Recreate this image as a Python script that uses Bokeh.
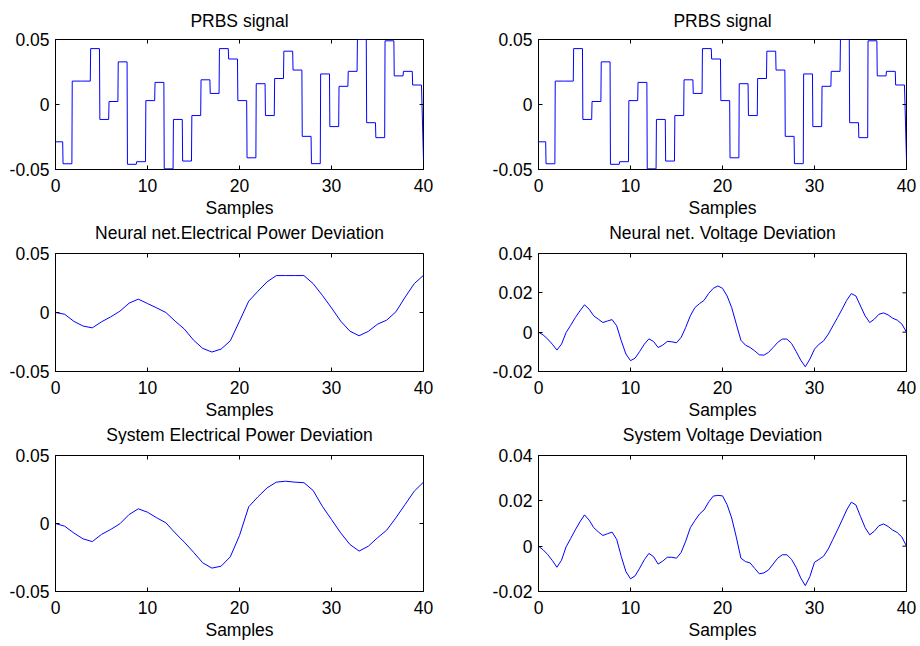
import numpy as np
from bokeh.plotting import figure
from bokeh.layouts import column, row
from bokeh.models import FixedTicker, Range1d, Title
from bokeh.embed import file_html
from bokeh.resources import INLINE

# ---------------- data ----------------
x_ticks = [0, 10, 20, 30, 40]
x_tick_labels = ["0", "10", "20", "30", "40"]
x_label = "Samples"

power_ticks = [-0.05, 0, 0.05]
power_tick_labels = ["-0.05", "0", "0.05"]
volt_ticks = [-0.02, 0, 0.02, 0.04]
volt_tick_labels = ["-0.02", "0", "0.02", "0.04"]

titles_left = ["PRBS signal", "Neural net.Electrical Power Deviation",
               "System Electrical Power Deviation"]
titles_right = ["PRBS signal", "Neural net. Voltage Deviation",
                "System Voltage Deviation"]

# PRBS step levels (one per sample, last value is the final point at 40)
prbs_levels = [-0.0287, -0.0456, 0.018, 0.018, 0.043, -0.0115, 0.0023, 0.0328,
               -0.046, -0.044, 0.003, 0.017, -0.0495, -0.0115, -0.0435, -0.0085,
               0.019, 0.0085, 0.043, 0.035, 0.003, -0.041, 0.016, -0.0085,
               0.020, 0.041, 0.0265, -0.0245, -0.0455, 0.0235, -0.017, 0.014,
               0.0255, 0.050, -0.014, -0.0255, 0.049, 0.022, 0.0255, 0.015,
               -0.043]

# Electrical power deviation (samples at integer steps)
power_x = list(range(0, 41))
nn_power = [0.0, -0.0015, -0.0075, -0.0115, -0.013, -0.0079, -0.0037, 0.0011,
            0.0079, 0.0113, 0.0076, 0.0039, 0.0, -0.0073, -0.014, -0.0234,
            -0.0304, -0.0335, -0.031, -0.024, -0.0073, 0.0096, 0.018, 0.026,
            0.0313, 0.0313, 0.0313, 0.0313, 0.0245, 0.0146, 0.0039, -0.0073,
            -0.0158, -0.0197, -0.016, -0.0099, -0.0065, 0.0006, 0.013, 0.0245,
            0.0315]
sys_power = [0.0, -0.002, -0.007, -0.0113, -0.0133, -0.008, -0.0044, -0.0002,
             0.0066, 0.0108, 0.0083, 0.0042, 0.0005, -0.0069, -0.0137, -0.0211,
             -0.0289, -0.0328, -0.0314, -0.0245, -0.0088, 0.0123, 0.0196, 0.0262,
             0.0304, 0.0311, 0.0304, 0.030, 0.0243, 0.0127, 0.0029, -0.0069,
             -0.0154, -0.0203, -0.0167, -0.0105, -0.0049, 0.0042, 0.014, 0.0238,
             0.0304]

# Voltage deviation (samples every half step)
volt_x = list(np.arange(0, 40.5, 0.5))
nn_volt = [0.0, -0.0014, -0.0035, -0.0061, -0.0091, -0.0061, -0.0002, 0.0035,
           0.0074, 0.0108, 0.0139, 0.0117, 0.0083, 0.0066, 0.0049, 0.0057,
           0.0064, 0.0032, -0.0044, -0.0111, -0.0145, -0.0132, -0.0098, -0.0061,
           -0.0034, -0.0047, -0.0078, -0.0066, -0.0047, -0.0049, -0.0054, -0.0027,
           0.0024, 0.0083, 0.0125, 0.0145, 0.0162, 0.0197, 0.0223, 0.0235,
           0.0223, 0.0184, 0.0125, 0.0041, -0.0041, -0.0066, -0.0078, -0.0095,
           -0.0115, -0.0117, -0.0103, -0.0078, -0.0052, -0.0035, -0.0035, -0.0057,
           -0.0098, -0.0142, -0.0176, -0.0137, -0.0086, -0.0061, -0.0044, -0.001,
           0.0032, 0.0074, 0.0117, 0.0162, 0.0196, 0.0184, 0.0133, 0.0083,
           0.0049, 0.0066, 0.0091, 0.0098, 0.0088, 0.0071, 0.0061, 0.0041, 0.0]
sys_volt = [0.0, -0.0016, -0.0037, -0.0063, -0.0093, -0.0062, -0.0003, 0.0034,
            0.0072, 0.0107, 0.0138, 0.0115, 0.0082, 0.0063, 0.0047, 0.0055,
            0.0062, 0.0030, -0.0046, -0.0112, -0.0144, -0.0131, -0.0097, -0.006,
            -0.0032, -0.0046, -0.0079, -0.0066, -0.0049, -0.0049, -0.0053, -0.0028,
            0.0022, 0.0081, 0.0113, 0.0142, 0.016, 0.0195, 0.0221, 0.0224,
            0.0222, 0.0183, 0.0124, 0.004, -0.0053, -0.0068, -0.0074, -0.0098,
            -0.0122, -0.0118, -0.0105, -0.0079, -0.0053, -0.0038, -0.0038, -0.0058,
            -0.0093, -0.0140, -0.0174, -0.0134, -0.0071, -0.0058, -0.0044, -0.0012,
            0.0030, 0.0072, 0.0115, 0.0160, 0.0194, 0.0182, 0.0131, 0.0082,
            0.005, 0.0066, 0.009, 0.0098, 0.0087, 0.0071, 0.006, 0.004, 0.0]

# ---------------- style ----------------
FONT = "Liberation Sans"
TICK_FS = "17.5px"
LABEL_FS = "17.5px"
LINE_COLOR = "#0000ff"


def prbs_xy(levels):
    xs, ys = [], []
    n = len(levels)
    for k, v in enumerate(levels):
        if k == n - 1:
            xs.append(float(k)); ys.append(v)
        else:
            xs.extend([max(k - 0.18, 0.0), k + 0.78]); ys.extend([v, v])
    return xs, ys


def style_title(t, standoff):
    t.align = "center"
    t.text_font = FONT
    t.text_font_size = LABEL_FS
    t.text_font_style = "normal"
    t.text_color = "black"
    t.standoff = standoff


def make_fig(xs, ys, yticks, ylabels, yrange, fh, bl, br, bt, bb,
             top_title=None, next_title=None):
    p = figure(frame_width=368, frame_height=fh,
               x_range=Range1d(0, 40), y_range=Range1d(*yrange),
               output_backend="svg", toolbar_location=None,
               title=top_title,
               min_border_left=bl, min_border_right=br,
               min_border_top=bt, min_border_bottom=bb,
               background_fill_color="white", border_fill_color="white",
               x_axis_label=x_label)
    p.line(xs, ys, line_color=LINE_COLOR, line_width=1)
    p.grid.visible = False
    p.outline_line_color = "black"
    p.outline_line_alpha = 1.0
    p.outline_line_width = 1

    if top_title is not None:
        style_title(p.title, 17)

    xa = p.xaxis[0]
    xa.ticker = FixedTicker(ticks=x_ticks)
    xa.major_label_overrides = {t: l for t, l in zip(x_ticks, x_tick_labels)}
    ya = p.yaxis[0]
    ya.ticker = FixedTicker(ticks=yticks)
    ya.major_label_overrides = {t: l for t, l in zip(yticks, ylabels)}
    for ax in (xa, ya):
        ax.major_tick_in = 4
        ax.major_tick_out = 0
        ax.minor_tick_line_color = None
        ax.axis_line_color = "black"
        ax.major_tick_line_color = "black"
        ax.major_label_text_font = FONT
        ax.major_label_text_font_size = TICK_FS
        ax.major_label_text_color = "black"
    xa.major_label_standoff = 9
    ya.major_label_standoff = 6
    xa.axis_label_text_font = FONT
    xa.axis_label_text_font_size = LABEL_FS
    xa.axis_label_text_font_style = "normal"
    xa.axis_label_text_color = "black"
    xa.axis_label_standoff = 3

    # title of the subplot underneath, drawn in this figure's bottom margin
    if next_title is not None:
        t = Title(text=next_title)
        style_title(t, 0)
        p.add_layout(t, "below")

    # inward tick marks on the top and right edges (box on); the outer half
    # of each dash is clipped by the frame
    p.scatter(x_ticks, [yrange[1]] * len(x_ticks), marker="dash", size=8,
              angle=np.pi / 2, line_color="black", line_width=1)
    p.scatter([x_ticks[-1]] * len(yticks), yticks, marker="dash", size=8,
              line_color="black", line_width=1)
    return p


px, py = prbs_xy(prbs_levels)

LB, LR = 55, 40
RB, RR = 75, 12
T2 = 11

f11 = make_fig(px, py, power_ticks, power_tick_labels, (-0.05, 0.05), 130, LB, LR, 38, 0,
               top_title=titles_left[0], next_title=titles_left[1])
f12 = make_fig(px, py, power_ticks, power_tick_labels, (-0.05, 0.05), 130, RB, RR, 38, 0,
               top_title=titles_right[0], next_title=titles_right[1])
f21 = make_fig(power_x, nn_power, power_ticks, power_tick_labels, (-0.05, 0.05), 118, LB, LR, T2, 0,
               next_title=titles_left[2])
f22 = make_fig(volt_x, nn_volt, volt_ticks, volt_tick_labels, (-0.02, 0.04), 118, RB, RR, T2, 0,
               next_title=titles_right[2])
f31 = make_fig(power_x, sys_power, power_ticks, power_tick_labels, (-0.05, 0.05), 136, LB, LR, T2, 51)
f32 = make_fig(volt_x, sys_volt, volt_ticks, volt_tick_labels, (-0.02, 0.04), 136, RB, RR, T2, 51)

layout = column(row(f11, f12), row(f21, f22), row(f31, f32))

with open("out.html", "w") as fh:
    fh.write(file_html(layout, INLINE))
